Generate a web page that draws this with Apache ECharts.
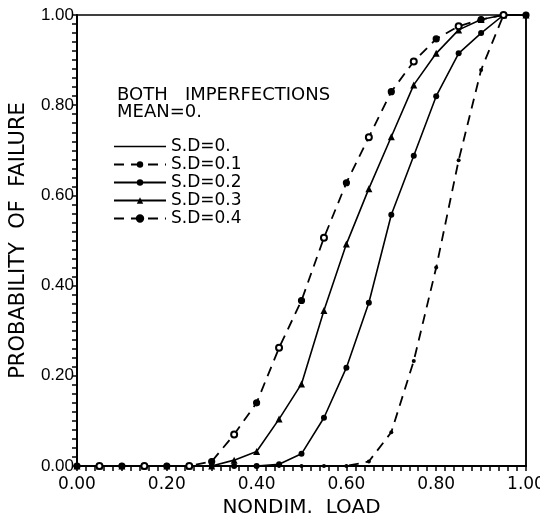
<!DOCTYPE html>
<html>
<head>
<meta charset="utf-8">
<script src="https://cdn.jsdelivr.net/npm/echarts@6/dist/echarts.min.js"></script>
<style>
  html, body { margin: 0; padding: 0; background: #fff; }
  #chart { width: 540px; height: 518px; }
</style>
</head>
<body>
<div id="chart"></div>
<script>
// nondimensional load (x), every 0.05
const loads = [0, 0.05, 0.10, 0.15, 0.20, 0.25, 0.30, 0.35, 0.40, 0.45, 0.50,
  0.55, 0.60, 0.65, 0.70, 0.75, 0.80, 0.85, 0.90, 0.95, 1.00];
// probability of failure per standard deviation
const sd0Load = [0, 1.0, 1.0];
const sd0Prob = [0, 0, 1.0];
const sd01 = [0, 0, 0, 0, 0, 0, 0, 0, 0, 0, 0,
  0, 0, 0.01, 0.075, 0.233, 0.44, 0.678, 0.878, 1.0, 1.0];
const sd02 = [0, 0, 0, 0, 0, 0, 0, 0, 0, 0.004, 0.027,
  0.107, 0.218, 0.362, 0.557, 0.688, 0.82, 0.915, 0.96, 1.0, 1.0];
const sd03 = [0, 0, 0, 0, 0, 0, 0, 0.013, 0.032, 0.104, 0.182,
  0.345, 0.492, 0.615, 0.73, 0.845, 0.915, 0.967, 0.99, 1.0, 1.0];
const sd04 = [0, 0, 0, 0, 0, 0, 0.01, 0.07, 0.14, 0.262, 0.367,
  0.506, 0.628, 0.729, 0.83, 0.897, 0.947, 0.975, 0.99, 1.0, 1.0];
const seriesNames = ['S.D=0.', 'S.D=0.1', 'S.D=0.2', 'S.D=0.3', 'S.D=0.4'];

const font = 'Liberation Sans';
const wide = 'DejaVu Sans';
const pairs = (xs, ys) => xs.map((x, i) => [x, ys[i]]);

const chart = echarts.init(document.getElementById('chart'));
chart.setOption({
  animation: false,
  backgroundColor: '#fff',
  title: {
    text: 'BOTH   IMPERFECTIONS\nMEAN=0.',
    left: 112,
    top: 82,
    textStyle: { fontFamily: wide, fontSize: 18, fontWeight: 'normal', color: '#000', lineHeight: 17 }
  },
  legend: {
    orient: 'vertical',
    left: 108,
    top: 133,
    itemWidth: 52,
    itemHeight: 8,
    itemGap: 1,
    data: seriesNames.map((n, i) => i === 0 ? { name: n, icon: 'path://M0,0H52V1.5H0Z' } : n),
    textStyle: { fontFamily: wide, fontSize: 17, color: '#000' }
  },
  grid: {
    left: 77, right: 14, top: 15, bottom: 52,
    outerBoundsMode: 'none',
    show: true, borderColor: '#000', borderWidth: 1.5
  },
  xAxis: {
    type: 'value',
    min: 0, max: 1, interval: 0.2,
    name: 'NONDIM.  LOAD',
    nameLocation: 'middle',
    nameGap: 31,
    nameTextStyle: { fontFamily: wide, fontSize: 20, color: '#000' },
    axisLine: { lineStyle: { color: '#000', width: 2 } },
    axisTick: { show: true, length: 5, lineStyle: { color: '#000', width: 1.5 } },
    minorTick: { show: true, splitNumber: 10, length: 5, lineStyle: { color: '#000', width: 1.5 } },
    splitLine: { show: false },
    axisLabel: {
      fontFamily: wide, fontSize: 17, color: '#000', margin: 10,
      formatter: v => v.toFixed(2)
    }
  },
  yAxis: {
    type: 'value',
    min: 0, max: 1, interval: 0.2,
    name: 'PROBABILITY  OF  FAILURE',
    nameLocation: 'middle',
    nameRotate: 90,
    nameGap: 48,
    nameTextStyle: { fontFamily: wide, fontSize: 21, color: '#000' },
    axisLine: { lineStyle: { color: '#000', width: 2 } },
    axisTick: { show: true, length: 5, lineStyle: { color: '#000', width: 1.5 } },
    minorTick: { show: true, splitNumber: 10, length: 5, lineStyle: { color: '#000', width: 1.5 } },
    splitLine: { show: false },
    axisLabel: {
      fontFamily: font, fontSize: 17, color: '#000', margin: 3,
      formatter: v => v.toFixed(2)
    }
  },
  series: [
    {
      name: seriesNames[0], type: 'line', data: pairs(sd0Load, sd0Prob),
      showSymbol: false, symbol: 'none',
      lineStyle: { color: '#000', width: 1.5 }, itemStyle: { color: '#000' }
    },
    {
      name: seriesNames[1], type: 'line', data: pairs(loads, sd01),
      symbol: 'circle', symbolSize: 4,
      lineStyle: { color: '#000', width: 1.8, type: [10, 7] }, itemStyle: { color: '#000' }
    },
    {
      name: seriesNames[2], type: 'line', data: pairs(loads, sd02),
      symbol: 'circle', symbolSize: 6,
      lineStyle: { color: '#000', width: 1.6 }, itemStyle: { color: '#000' }
    },
    {
      name: seriesNames[3], type: 'line', data: pairs(loads, sd03),
      symbol: 'triangle', symbolSize: 7,
      lineStyle: { color: '#000', width: 1.6 }, itemStyle: { color: '#000' }
    },
    {
      name: seriesNames[4], type: 'line',
      data: pairs(loads, sd04).map((p, i) => ({
        value: p, symbol: i % 2 === 1 ? 'emptyCircle' : 'circle'
      })),
      symbol: 'circle', symbolSize: 6,
      lineStyle: { color: '#000', width: 1.8, type: [10, 7] },
      itemStyle: { color: '#000', borderColor: '#000', borderWidth: 1.2 }
    }
  ]
});
</script>
</body>
</html>
